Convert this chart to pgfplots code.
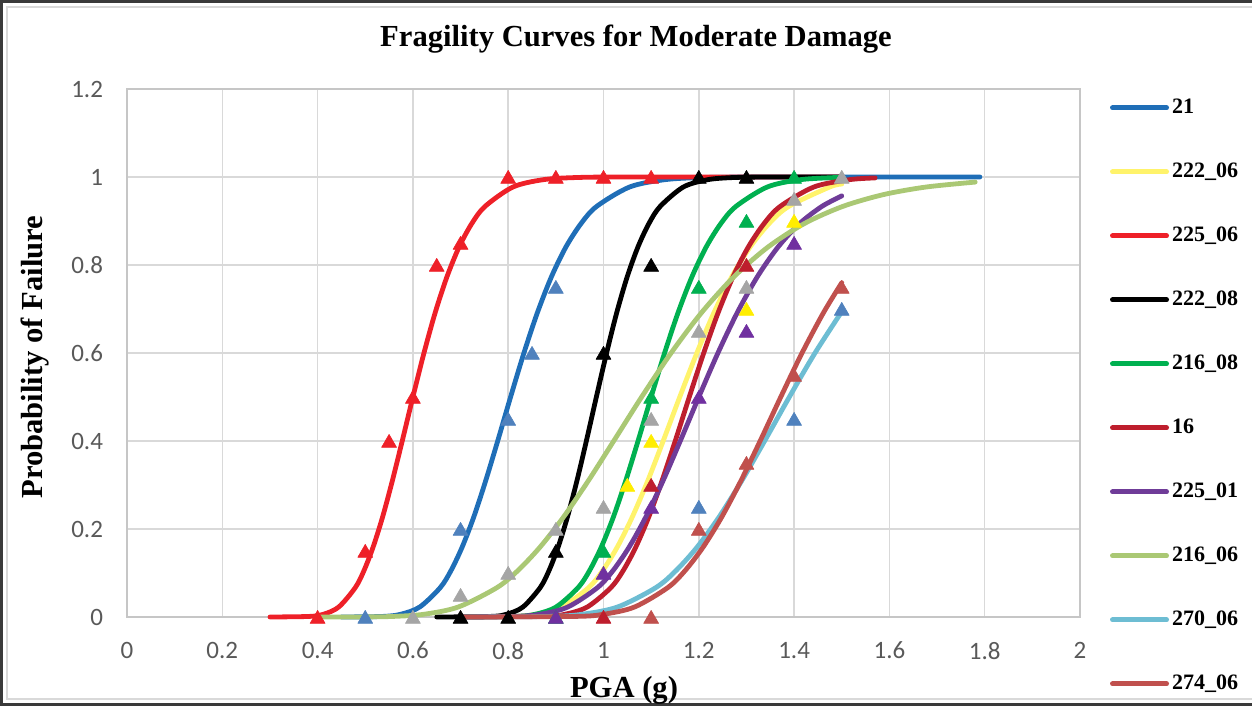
\documentclass[border=0pt]{standalone}
\usepackage{fontspec}
\setmainfont{Liberation Serif}
\newfontfamily\calibri{Carlito}
\usepackage{pgfplots}
\pgfplotsset{compat=1.18}
\definecolor{cBlue}{HTML}{1F6EB7}
\definecolor{cYel}{HTML}{FFF36B}
\definecolor{cRed}{HTML}{EE2028}
\definecolor{cGreen}{HTML}{00B050}
\definecolor{cDRed}{HTML}{BE1E2D}
\definecolor{cPurp}{HTML}{6F3C98}
\definecolor{cLGreen}{HTML}{AAC874}
\definecolor{cLBlue}{HTML}{6DBDD3}
\definecolor{cBrown}{HTML}{C0504D}
\definecolor{mSteel}{HTML}{4F81BD}
\definecolor{mYel}{HTML}{FFED00}
\definecolor{mGray}{HTML}{A5A5A5}
\definecolor{mPurp}{HTML}{7030A0}
\definecolor{gridgray}{HTML}{D9D9D9}
\definecolor{axgray}{HTML}{C6C6C6}
\definecolor{tickgray}{HTML}{595959}
\definecolor{frame}{HTML}{3A3A3A}
\begin{document}
\begin{tikzpicture}
\useasboundingbox (0,0) rectangle (626pt,353pt);
\draw[frame, line width=1.5pt] (627pt,352.25pt) -- (0.75pt,352.25pt) -- (0.75pt,0.75pt) -- (627pt,0.75pt);
\draw[gridgray, line width=1pt] (627pt,349.5pt) -- (3.5pt,349.5pt) -- (3.5pt,3.5pt) -- (627pt,3.5pt);
\begin{axis}[
  scale only axis, width=476.5pt, height=264pt,
  at={(63.5pt,44.5pt)}, anchor=south west,
  xmin=0, xmax=2, ymin=0, ymax=1.2,
  xtick={0,0.2,0.4,0.6,0.8,1,1.2,1.4,1.6,1.8,2},
  ytick={0,0.2,0.4,0.6,0.8,1,1.2},
  grid=major, major grid style={draw=gridgray, line width=0.75pt},
  axis line style={draw=axgray, line width=1pt},
  tick style={draw=none},
  /pgf/number format/assume math mode=true,
  tick label style={font=\calibri\fontsize{12.5}{12.5}\selectfont, text=tickgray},
  xticklabel style={yshift=-9pt},
  yticklabel style={xshift=-8.5pt},
  clip=false,
  every axis plot/.append style={line width=2.4pt, line cap=round, line join=round},
  legend cell align=left,
  legend style={at={(axis description cs:1.0315,0.9841)}, anchor=north west,
    draw=none, fill=none, inner sep=0pt, outer sep=0pt,
    row sep=21.5pt, column sep=1.5pt,
    font=\bfseries\fontsize{11}{11}\selectfont,
    nodes={inner sep=0pt, text height=8pt, text depth=2.5pt}},
  legend image code/.code={\draw[#1, line width=2.5pt, line cap=round] (0pt,0pt) -- (27pt,0pt);},
  mk/.style={only marks, mark=triangle*, mark size=4.3pt, forget plot,
    every mark/.append style={yshift=-1pt, line width=0.3pt}},
]
% ---- fitted curves ----
\addplot[cBlue, smooth] coordinates {(0.45,0) (0.5369,0.0013) (0.5744,0.0062) (0.6145,0.0228) (0.6574,0.0668) (0.6800,0.1056) (0.7033,0.1587) (0.7275,0.2266) (0.7524,0.3085) (0.7783,0.4013) (0.805,0.5) (0.8326,0.5987) (0.8612,0.6915) (0.8908,0.7734) (0.9213,0.8413) (0.9530,0.8944) (0.9857,0.9332) (1.0546,0.9772) (1.1281,0.9938) (1.2069,0.9987) (1.35,1) (1.79,1)};
\addlegendentry{21}
\addplot[cYel, smooth] coordinates {(0.7,0) (0.8093,0.0013) (0.8593,0.0062) (0.9125,0.0228) (0.9689,0.0668) (0.9984,0.1056) (1.0288,0.1587) (1.0601,0.2266) (1.0925,0.3085) (1.1257,0.4013) (1.16,0.5) (1.1954,0.5987) (1.2317,0.6915) (1.2693,0.7734) (1.3079,0.8413) (1.3477,0.8944) (1.3888,0.9332) (1.4746,0.9772) (1.5,0.9839)};
\addlegendentry{222\_06}
\addplot[cRed, smooth] coordinates {(0.30,0) (0.3826,0.0013) (0.4124,0.0062) (0.4445,0.0228) (0.4791,0.0668) (0.4974,0.1056) (0.5164,0.1587) (0.5362,0.2266) (0.5566,0.3085) (0.5779,0.4013) (0.6,0.5) (0.6229,0.5987) (0.6467,0.6915) (0.6715,0.7734) (0.6971,0.8413) (0.7237,0.8944) (0.7514,0.9332) (0.8099,0.9772) (0.8730,0.9938) (0.9410,0.9987) (1.05,1) (1.5,1)};
\addlegendentry{225\_06}
\addplot[black, smooth] coordinates {(0.65,0) (0.7633,0.0013) (0.7965,0.0062) (0.8310,0.0228) (0.8671,0.0668) (0.8857,0.1056) (0.9047,0.1587) (0.9241,0.2266) (0.9440,0.3085) (0.9643,0.4013) (0.985,0.5) (1.0062,0.5987) (1.0277,0.6915) (1.0498,0.7734) (1.0724,0.8413) (1.0954,0.8944) (1.1190,0.9332) (1.1675,0.9772) (1.2182,0.9938) (1.2711,0.9987) (1.35,1) (1.5,1)};
\addlegendentry{222\_08}
\addplot[cGreen, smooth] coordinates {(0.7,0) (0.8149,0.0013) (0.8567,0.0062) (0.9006,0.0228) (0.9468,0.0668) (0.9708,0.1056) (0.9953,0.1587) (1.0205,0.2266) (1.0463,0.3085) (1.0728,0.4013) (1.1,0.5) (1.1278,0.5987) (1.1564,0.6915) (1.1857,0.7734) (1.2157,0.8413) (1.2464,0.8944) (1.2780,0.9332) (1.3435,0.9772) (1.4124,0.9938) (1.4849,0.9987) (1.5,0.999)};
\addlegendentry{216\_08}
\addplot[cDRed, smooth] coordinates {(0.7,0) (0.8741,0.0013) (0.9190,0.0062) (0.9661,0.0228) (1.0156,0.0668) (1.0414,0.1056) (1.0677,0.1587) (1.0947,0.2266) (1.1224,0.3085) (1.1509,0.4013) (1.18,0.5) (1.2099,0.5987) (1.2405,0.6915) (1.2719,0.7734) (1.3041,0.8413) (1.3371,0.8944) (1.3709,0.9332) (1.4413,0.9772) (1.5151,0.9938) (1.57,0.9979)};
\addlegendentry{16}
\addplot[cPurp, smooth] coordinates {(0.7,0) (0.8125,0.0013) (0.8670,0.0062) (0.9253,0.0228) (0.9874,0.0668) (1.0200,0.1056) (1.0537,0.1587) (1.0885,0.2266) (1.1245,0.3085) (1.1616,0.4013) (1.2,0.5) (1.2396,0.5987) (1.2806,0.6915) (1.3229,0.7734) (1.3666,0.8413) (1.4117,0.8944) (1.4584,0.9332) (1.5,0.957)};
\addlegendentry{225\_01}
\addplot[cLGreen, smooth] coordinates {(0.4,0) (0.5,0.0002) (0.5583,0.0013) (0.6231,0.0062) (0.6955,0.0228) (0.7764,0.0668) (0.8204,0.1056) (0.8667,0.1587) (0.9157,0.2266) (0.9675,0.3085) (1.0222,0.4013) (1.08,0.5) (1.1410,0.5987) (1.2056,0.6915) (1.2738,0.7734) (1.3458,0.8413) (1.4219,0.8944) (1.5023,0.9332) (1.5872,0.9599) (1.6769,0.9772) (1.78,0.9884)};
\addlegendentry{216\_06}
\addplot[cLBlue, smooth] coordinates {(0.7,0) (0.8863,0.0013) (0.9553,0.0062) (1.0297,0.0228) (1.1099,0.0668) (1.1523,0.1056) (1.1964,0.1587) (1.2421,0.2266) (1.2895,0.3085) (1.3388,0.4013) (1.39,0.5) (1.4431,0.5987) (1.5,0.694)};
\addlegendentry{270\_06}
\addplot[cBrown, smooth] coordinates {(0.7,0) (0.9387,0.0013) (1.0000,0.0062) (1.0654,0.0228) (1.1349,0.0668) (1.1714,0.1056) (1.2090,0.1587) (1.2478,0.2266) (1.2879,0.3085) (1.3293,0.4013) (1.372,0.5) (1.4160,0.5987) (1.4616,0.6915) (1.5,0.7596)};
\addlegendentry{274\_06}
% ---- observed points ----
\addplot[mk, color=mSteel] coordinates {(0.5,0) (0.7,0.2) (0.8,0.45) (0.85,0.6) (0.9,0.75)};
\addplot[mk, color=mYel] coordinates {(1.05,0.3) (1.1,0.4) (1.3,0.7) (1.4,0.9)};
\addplot[mk, color=cRed] coordinates {(0.4,0) (0.5,0.15) (0.55,0.4) (0.6,0.5) (0.65,0.8) (0.7,0.85) (0.8,1) (0.9,1) (1.0,1) (1.1,1)};
\addplot[mk, color=black] coordinates {(0.7,0) (0.8,0) (0.9,0.15) (1.0,0.6) (1.1,0.8) (1.2,1) (1.3,1)};
\addplot[mk, color=cGreen] coordinates {(0.9,0) (1.0,0.15) (1.1,0.5) (1.2,0.75) (1.3,0.9) (1.4,1)};
\addplot[mk, color=cDRed] coordinates {(1.0,0) (1.1,0.3) (1.3,0.8)};
\addplot[mk, color=mPurp] coordinates {(0.9,0) (1.0,0.1) (1.1,0.25) (1.2,0.5) (1.3,0.65) (1.4,0.85)};
\addplot[mk, color=mGray] coordinates {(0.6,0) (0.7,0.05) (0.8,0.1) (0.9,0.2) (1.0,0.25) (1.1,0.45) (1.2,0.65) (1.3,0.75) (1.4,0.95) (1.5,1)};
\addplot[mk, color=mSteel] coordinates {(1.2,0.25) (1.4,0.45) (1.5,0.7)};
\addplot[mk, color=cBrown] coordinates {(1.1,0) (1.2,0.2) (1.3,0.35) (1.4,0.55) (1.5,0.75)};
\end{axis}
\node[anchor=base, font=\bfseries\fontsize{15.3}{15.3}\selectfont] at (318pt,329.5pt) {Fragility Curves for Moderate Damage};
\node[anchor=base, font=\bfseries\fontsize{15.3}{15.3}\selectfont] at (312pt,4pt) {PGA (g)};
\node[anchor=base, rotate=90, font=\bfseries\fontsize{15.3}{15.3}\selectfont] at (21pt,174.5pt) {Probability of Failure};
\end{tikzpicture}
\end{document}
